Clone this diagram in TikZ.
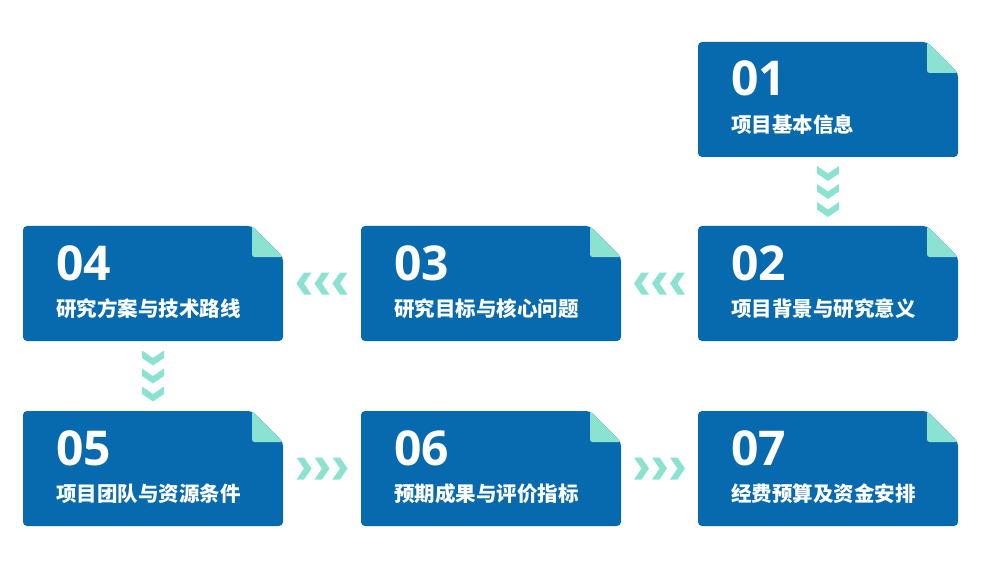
\documentclass[tikz,border=0pt]{standalone}
\usepackage{fontspec}
\setmainfont{Open Sans}
\newfontfamily\cjk{Noto Sans CJK SC}
\usetikzlibrary{calc}
\definecolor{boxblue}{RGB}{7,106,174}
\definecolor{foldc}{RGB}{140,226,208}
\tikzset{
  boxnode/.style={rectangle, minimum width=260pt, minimum height=115pt, inner sep=0pt, draw=none},
  numtxt/.style={text=white, font=\fontsize{48}{50}\selectfont\bfseries, inner sep=0pt},
  labtxt/.style={text=white, font=\cjk\fontsize{20.5}{22}\selectfont\bfseries, inner sep=0pt},
  chevR/.pic={\fill[foldc] (-7.5,-11) -- (0,0) -- (-7.5,11) -- (0,11) -- (7.5,0) -- (0,-11) -- cycle;},
  chevL/.pic={\fill[foldc] (7.5,-11) -- (0,0) -- (7.5,11) -- (0,11) -- (-7.5,0) -- (0,-11) -- cycle;},
  chevD/.pic={\fill[foldc] (-11,-7.5) -- (0,0) -- (11,-7.5) -- (11,0) -- (0,7.5) -- (-11,0) -- cycle;},
  chevsR/.pic={\pic at (-18,0) {chevR}; \pic at (0,0) {chevR}; \pic at (18,0) {chevR};},
  chevsL/.pic={\pic at (-18,0) {chevL}; \pic at (0,0) {chevL}; \pic at (18,0) {chevL};},
  chevsD/.pic={\pic at (0,-18) {chevD}; \pic at (0,0) {chevD}; \pic at (0,18) {chevD};},
}
\newcommand\mybox[5]{%
  \fill[boxblue, rounded corners=4pt] (#2+229,#3) -- (#2,#3) -- (#2,#3+115) -- (#2+260,#3+115) -- (#2+260,#3+31) -- cycle;
  \fill[foldc, rounded corners=2.5pt] (#2+229,#3) -- (#2+229,#3+31) -- (#2+260,#3+31) -- cycle;
  \node[boxnode] (#1) at (#2+130,#3+57.5) {};
  \node[numtxt, anchor=base west] (#1n) at (#2+33,#3+54) {#4};
  \node[labtxt, anchor=west] (#1l) at (#2+33,#3+83) {#5};
}
\begin{document}
\begin{tikzpicture}[x=1pt,y=-1pt]
\useasboundingbox (0,0) rectangle (992,561);
\mybox{b1}{698}{42}{01}{项目基本信息}
\mybox{b2}{698}{226}{02}{项目背景与研究意义}
\mybox{b3}{361}{226}{03}{研究目标与核心问题}
\mybox{b4}{23}{226}{04}{研究方案与技术路线}
\mybox{b5}{23}{411}{05}{项目团队与资源条件}
\mybox{b6}{361}{411}{06}{预期成果与评价指标}
\mybox{b7}{698}{411}{07}{经费预算及资金安排}
\coordinate (m12) at ($(b1)!0.5!(b2)$);
\coordinate (m23) at ($(b2)!0.5!(b3)$);
\coordinate (m34) at ($(b3)!0.5!(b4)$);
\coordinate (m45) at ($(b4)!0.5!(b5)$);
\coordinate (m56) at ($(b5)!0.5!(b6)$);
\coordinate (m67) at ($(b6)!0.5!(b7)$);
\pic at (m12) {chevsD};
\pic at (m23) {chevsL};
\pic at (m34) {chevsL};
\pic at (m45) {chevsD};
\pic at (m56) {chevsR};
\pic at (m67) {chevsR};
\end{tikzpicture}
\end{document}
